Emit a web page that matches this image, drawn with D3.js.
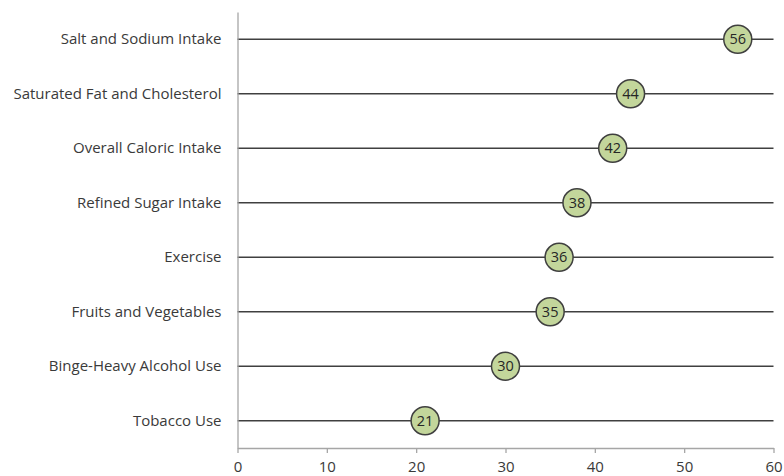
<!DOCTYPE html>
<html>
<head>
<meta charset="utf-8">
<script src="https://cdn.jsdelivr.net/npm/d3@7"></script>
<style>
  html, body { margin: 0; padding: 0; background: #ffffff; }
  svg { display: block; }
</style>
</head>
<body>
<svg id="chart" width="784" height="476"></svg>
<script>
// Health behaviours, ordered top to bottom
const categories = [
  "Salt and Sodium Intake",
  "Saturated Fat and Cholesterol",
  "Overall Caloric Intake",
  "Refined Sugar Intake",
  "Exercise",
  "Fruits and Vegetables",
  "Binge-Heavy Alcohol Use",
  "Tobacco Use"
];
const values = [56, 44, 42, 38, 36, 35, 30, 21];
const xTicks = [0, 10, 20, 30, 40, 50, 60];

const svg = d3.select("#chart");
const margin = { left: 237.5, top: 12 };
const fontFamily = "'Open Sans', 'Noto Sans', sans-serif";

const x = d3.scaleLinear().domain([0, 60]).range([margin.left, 773.5]);
const y = d3.scaleBand().domain(categories).range([margin.top, 448]).padding(0);

// Horizontal guide line for each category, running to the axis maximum
svg.append("g")
  .selectAll("line")
  .data(categories)
  .join("line")
  .attr("x1", x(0))
  .attr("x2", x(60))
  .attr("y1", d => y(d) + y.bandwidth() / 2)
  .attr("y2", d => y(d) + y.bandwidth() / 2)
  .attr("stroke", "#404040")
  .attr("stroke-width", 1.5);

// Y axis (category labels)
const yAxis = svg.append("g")
  .attr("transform", `translate(${x(0)},0)`)
  .call(d3.axisLeft(y).tickSize(0).tickPadding(16));
yAxis.select(".domain").attr("stroke", "#a6a6a6").attr("stroke-width", 1.3);
yAxis.selectAll("text")
  .attr("fill", "#3a3a3a")
  .style("font-family", fontFamily)
  .style("font-size", "15px")
  .attr("dy", "0.34em");

// X axis
const xAxis = svg.append("g")
  .attr("transform", `translate(0,448)`)
  .call(d3.axisBottom(x).tickValues(xTicks).tickSize(5).tickSizeOuter(0).tickPadding(8));
xAxis.select(".domain").attr("stroke", "#a6a6a6").attr("stroke-width", 1.3);
xAxis.selectAll(".tick line").attr("stroke", "#a6a6a6").attr("stroke-width", 1.3);
xAxis.selectAll("text")
  .attr("fill", "#3a3a3a")
  .style("font-family", fontFamily)
  .style("font-size", "15px");

// Value markers
const dots = svg.append("g")
  .selectAll("g")
  .data(categories.map((c, i) => ({ c, v: values[i] })))
  .join("g")
  .attr("transform", d => `translate(${x(d.v)},${y(d.c) + y.bandwidth() / 2})`);

dots.append("circle")
  .attr("r", 14)
  .attr("fill", "#c3d69b")
  .attr("stroke", "#3f3f3f")
  .attr("stroke-width", 1.5);

dots.append("text")
  .attr("text-anchor", "middle")
  .attr("dy", "0.36em")
  .attr("fill", "#262626")
  .style("font-family", fontFamily)
  .style("font-size", "14.5px")
  .text(d => d.v);
</script>
</body>
</html>
